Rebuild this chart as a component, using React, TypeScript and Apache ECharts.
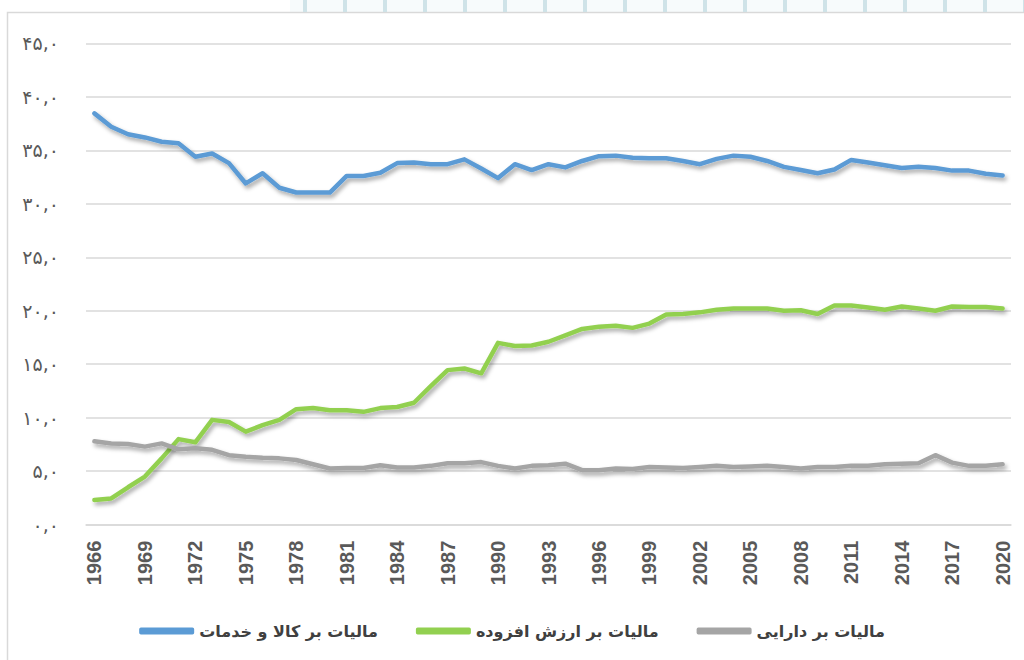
import React, { useEffect, useRef } from "react";
import * as echarts from "echarts";

const years: string[] = [];
for (let y = 1966; y <= 2020; y++) years.push(String(y));

const seriesNames = ["مالیات بر کالا و خدمات", "مالیات بر ارزش افزوده", "مالیات بر دارایی"];
const seriesColors = ["#5B9BD5", "#92D050", "#A5A5A5"];

const goodsServices = [
  38.45, 37.2, 36.5, 36.2, 35.8, 35.65, 34.4, 34.7, 33.8, 31.9, 32.85, 31.5, 31.05, 31.05, 31.05, 32.6, 32.6, 32.9, 33.8,
  33.85, 33.7, 33.7, 34.15, 33.3, 32.4, 33.7, 33.15, 33.7, 33.4, 34.0, 34.45, 34.5, 34.3, 34.25, 34.25, 34.0, 33.7,
  34.2, 34.5, 34.4, 34.0, 33.45, 33.15, 32.85, 33.2, 34.1, 33.85, 33.6, 33.35, 33.45, 33.35, 33.1, 33.1, 32.8, 32.65,
];
const valueAdded = [
  2.3, 2.45, 3.5, 4.5, 6.2, 8.0, 7.7, 9.8, 9.6, 8.7, 9.3, 9.8, 10.8, 10.9, 10.7, 10.7,
  10.55, 10.9, 11.0, 11.4, 12.95, 14.45, 14.6, 14.15, 17.0, 16.7, 16.75, 17.1, 17.7, 18.3, 18.5, 18.6, 18.4, 18.8, 19.65,
  19.7, 19.85, 20.1, 20.2, 20.2, 20.2, 20.0, 20.05, 19.7, 20.5, 20.5, 20.3, 20.1, 20.4, 20.2, 20.0, 20.4, 20.35, 20.35, 20.2,
];
const property = [
  7.8, 7.6, 7.55, 7.3, 7.6, 7.05, 7.15, 7.0, 6.5, 6.35, 6.25, 6.2, 6.05, 5.65, 5.25,
  5.3, 5.3, 5.55, 5.35, 5.35, 5.5, 5.75, 5.75, 5.85, 5.5, 5.25, 5.5, 5.55, 5.7, 5.1, 5.1, 5.25, 5.2, 5.4, 5.35,
  5.3, 5.4, 5.5, 5.4, 5.45, 5.5, 5.4, 5.25, 5.4, 5.4, 5.5, 5.5, 5.65, 5.7, 5.75, 6.5, 5.8, 5.5, 5.5, 5.65,
];
const seriesData = [goodsServices, valueAdded, property];

const persianDigits = "۰۱۲۳۴۵۶۷۸۹";
const toPersian = (v: number) =>
  v.toFixed(1).replace(".", ",").replace(/\d/g, (d) => persianDigits[Number(d)]);

export default function App() {
  const ref = useRef<HTMLDivElement>(null);
  useEffect(() => {
    if (!ref.current) return;
    const chart = echarts.init(ref.current, null, { renderer: "svg" });
    const stripes: any[] = [];
    for (let x = 303; x < 1024; x += 40) {
      stripes.push({
        type: "rect",
        shape: { x: x, y: 0, width: 4, height: 12 },
        style: { fill: "#cfe3e8" },
        silent: true,
      });
    }
    chart.setOption({
      animation: false,
      backgroundColor: "#ffffff",
      graphic: [
        { type: "rect", shape: { x: 290, y: 0, width: 740, height: 12 }, style: { fill: "#f7fbfc" }, silent: true, z: -2 },
        ...stripes,
        {
          type: "rect",
          shape: { x: 7.5, y: 12.5, width: 1040, height: 680 },
          style: { fill: "none", stroke: "#d9d9d9", lineWidth: 1.5 },
          silent: true,
          z: -1,
        },
      ],
      grid: { left: 86, right: 13, top: 43.3, bottom: 135.3, containLabel: false },
      legend: {
        bottom: 16,
        left: "center",
        itemWidth: 55,
        itemHeight: 7,
        itemGap: 38,
        icon: "roundRect",
        textStyle: { fontFamily: "DejaVu Sans", fontWeight: "bold", fontSize: 16, color: "#404040" },
        data: seriesNames,
      },
      xAxis: {
        type: "category",
        data: years,
        boundaryGap: true,
        axisTick: { show: false },
        axisLine: { lineStyle: { color: "#d9d9d9", width: 1.5 } },
        axisLabel: {
          interval: 2,
          rotate: 90,
          margin: 16,
          fontFamily: "Liberation Sans",
          fontWeight: "bold",
          fontSize: 20,
          color: "#595959",
        },
      },
      yAxis: {
        type: "value",
        min: 0,
        max: 45,
        interval: 5,
        axisLine: { show: false },
        axisTick: { show: false },
        splitLine: { lineStyle: { color: "#d9d9d9", width: 1.5 } },
        axisLabel: {
          margin: 27,
          fontFamily: "DejaVu Sans",
          fontSize: 19,
          color: "#595959",
          formatter: (v: number) => toPersian(v),
        },
      },
      series: seriesNames.map((name, i) => ({
        name,
        type: "line",
        data: seriesData[i],
        symbol: "none",
        color: seriesColors[i],
        lineStyle: {
          width: 4.5,
          color: seriesColors[i],
          cap: "round",
          join: "round",
          shadowColor: "rgba(0,0,0,0.35)",
          shadowBlur: 4,
          shadowOffsetX: 2,
          shadowOffsetY: 3,
        },
      })),
    });
    return () => chart.dispose();
  }, []);
  return <div ref={ref} style={{ position: "fixed", left: 0, top: 0, width: 1024, height: 660 }} />;
}
